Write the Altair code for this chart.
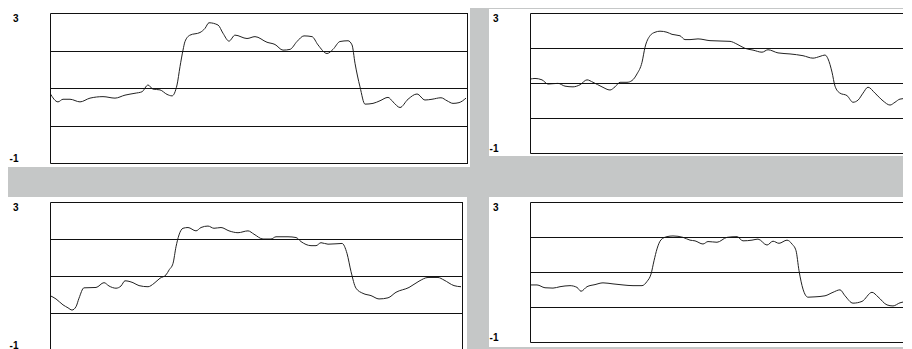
import altair as alt
import pandas as pd

# ---- data (t = sample position, v = value) ----
tl_t = [0, 8, 13, 20, 30, 40, 53, 65, 75, 85, 92, 98, 103, 110, 117, 122, 127, 130, 133, 135,
        140, 150, 155, 159, 168, 173, 179, 185, 197, 205, 217, 225, 233, 240, 247, 254, 262, 268,
        277, 283, 290, 298, 302, 305, 310, 315, 323, 330, 338, 343, 350, 358, 367, 375, 382, 391,
        397, 403, 409, 416]
tl_v = [0.86, 0.63, 0.70, 0.70, 0.63, 0.73, 0.77, 0.73, 0.81, 0.86, 0.90, 1.08, 0.97, 0.95, 0.83,
        0.79, 1.08, 1.57, 2.01, 2.24, 2.41, 2.48, 2.59, 2.74, 2.68, 2.46, 2.25, 2.41, 2.32, 2.37,
        2.22, 2.16, 2.01, 2.03, 2.24, 2.39, 2.37, 2.15, 1.92, 2.03, 2.24, 2.26, 2.15, 1.66, 1.03,
        0.57, 0.59, 0.66, 0.75, 0.63, 0.48, 0.70, 0.84, 0.68, 0.70, 0.74, 0.66, 0.59, 0.61, 0.73]

tr_t = [0, 5, 12, 18, 28, 35, 43, 50, 57, 63, 72, 80, 85, 90, 97, 102, 107, 112, 115, 120, 125,
        130, 137, 142, 150, 155, 160, 168, 180, 200, 207, 215, 223, 232, 238, 248, 260, 273, 283,
        290, 295, 298, 302, 305, 310, 317, 323, 328, 333, 338, 345, 353, 360, 365, 370, 377, 382]
tr_v = [1.11, 1.13, 1.09, 0.97, 0.99, 0.91, 0.89, 0.95, 1.09, 1.02, 0.89, 0.80, 0.89, 1.02, 1.02,
        1.07, 1.26, 1.59, 2.02, 2.35, 2.45, 2.48, 2.45, 2.39, 2.35, 2.24, 2.24, 2.26, 2.21, 2.19,
        2.11, 1.99, 1.94, 1.88, 1.95, 1.86, 1.83, 1.78, 1.71, 1.76, 1.80, 1.69, 1.31, 0.91, 0.71,
        0.64, 0.45, 0.51, 0.71, 0.88, 0.71, 0.49, 0.37, 0.45, 0.54, 0.56, 0.51]

bl_t = [0, 6, 13, 18, 22, 26, 29, 34, 46, 54, 59, 66, 71, 75, 83, 89, 98, 104, 110, 116, 119, 123,
        126, 129, 133, 138, 146, 151, 158, 164, 171, 179, 188, 198, 204, 213, 221, 226, 238, 246,
        251, 261, 266, 271, 278, 286, 292, 297, 301, 306, 313, 321, 329, 338, 346, 359, 369, 378,
        388, 394, 404, 411]
bl_v = [0.47, 0.38, 0.22, 0.14, 0.08, 0.17, 0.40, 0.68, 0.69, 0.82, 0.73, 0.67, 0.73, 0.87, 0.82,
        0.74, 0.71, 0.80, 0.94, 1.03, 1.16, 1.34, 1.79, 2.11, 2.29, 2.31, 2.22, 2.31, 2.35, 2.29,
        2.31, 2.22, 2.17, 2.22, 2.13, 2.00, 2.00, 2.06, 2.06, 2.04, 1.93, 1.82, 1.82, 1.90, 1.86,
        1.87, 1.88, 1.61, 1.12, 0.67, 0.53, 0.47, 0.38, 0.41, 0.56, 0.69, 0.86, 0.96, 0.96, 0.89,
        0.74, 0.71]

br_t = [0, 7, 15, 23, 30, 40, 47, 51, 57, 65, 73, 83, 93, 103, 112, 117, 121, 124, 127, 131, 137,
        143, 153, 160, 165, 173, 178, 187, 197, 207, 213, 222, 228, 237, 243, 249, 257, 262, 266,
        269, 273, 278, 285, 295, 303, 310, 315, 323, 332, 342, 348, 357, 363, 370, 376, 382]
br_v = [0.63, 0.63, 0.55, 0.54, 0.58, 0.61, 0.56, 0.45, 0.58, 0.64, 0.69, 0.66, 0.63, 0.61, 0.61,
        0.73, 0.94, 1.32, 1.66, 1.92, 2.01, 2.03, 1.99, 1.91, 1.89, 1.80, 1.87, 1.85, 1.99, 2.01,
        1.89, 1.91, 1.94, 1.77, 1.88, 1.82, 1.91, 1.80, 1.61, 1.04, 0.51, 0.28, 0.29, 0.32, 0.42,
        0.49, 0.32, 0.11, 0.16, 0.42, 0.29, 0.06, 0.03, 0.12, 0.15, 0.03]

y_ticks = [-1, 0, 1, 2, 3]
y_labels_shown = [3, -1]

BG = "#c5c7c7"
LINE = "#222222"
FRAME = "#111111"


def panel(t, v, xmax, w, h, card, right_edge):
    df = pd.DataFrame({"t": t, "v": v})
    cl, ct, cr, cb = card
    one = pd.DataFrame({"c": [0]})
    card_layer = alt.Chart(one).mark_rect(color="white").encode(
        x=alt.value(cl), x2=alt.value(w + cr), y=alt.value(ct), y2=alt.value(h + cb)
    )
    expr = "".join(f"datum.value == {s} ? '{s}' : " for s in y_labels_shown) + "''"
    line = alt.Chart(df).mark_line(
        color=LINE, strokeWidth=1, interpolate="monotone", clip=True
    ).encode(
        x=alt.X("t:Q", scale=alt.Scale(domain=[0, xmax], nice=False, zero=False), axis=None),
        y=alt.Y(
            "v:Q",
            scale=alt.Scale(domain=[-1, 3], nice=False, zero=False),
            axis=alt.Axis(
                values=y_ticks, grid=True, gridColor=FRAME, gridOpacity=1, gridWidth=1,
                ticks=False, domain=True, domainColor=FRAME, domainWidth=1,
                labelExpr=expr,
                labelFlush=True, labelOverlap=False, labelAlign="right", labelPadding=32,
                labelFont="Liberation Sans", labelFontWeight="bold", labelFontSize=10,
                labelColor="#000000", title=None, zindex=1,
            ),
        ),
    )
    layers = [card_layer, line]
    if right_edge:
        edge = alt.Chart(one).mark_rule(color=FRAME, strokeWidth=1).encode(
            x=alt.value(w + 0.5), y=alt.value(0), y2=alt.value(h + 1)
        )
        layers.append(edge)
    return alt.layer(*layers).properties(width=w, height=h)


# right-hand panels are cut by the window edge: show t in [0, 373] only
tl = panel(tl_t, tl_v, 417, 417, 150, (-42, -5, 3, 4), True)
tr = panel(tr_t, tr_v, 373, 373, 140, (-41, -4, 0, 3), False)
bl = panel(bl_t, bl_v, 412, 412, 148, (-42, -5, 5, 4), True)
br = panel(br_t, br_v, 373, 373, 140, (-41, -5, 0, 5), False)

chart = alt.concat(
    tl, tr, bl, br, columns=2, align="each", spacing={"row": 30, "column": 19}
).properties(
    padding=0, background=BG
).configure_view(stroke=None)

chart.save("out.html", embed_options={"renderer": "svg", "actions": False})
